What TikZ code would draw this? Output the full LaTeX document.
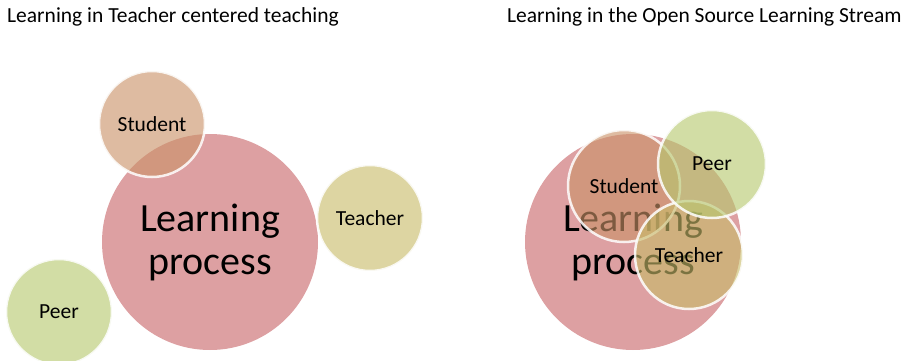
\documentclass[tikz,border=0pt]{standalone}
\usepackage{fontspec}
\setmainfont{Carlito}
\usepackage{tikz}

\definecolor{procpink}{RGB}{221,160,162}
\definecolor{studentc}{RGB}{202,146,104}
\definecolor{teacherc}{RGB}{200,187,105}
\definecolor{peerc}{RGB}{182,200,110}

\begin{document}
\begin{tikzpicture}[x=1pt,y=-1pt]
  \tikzset{font=\fontsize{21.5}{25}\selectfont}
  \tikzset{process/.style = {shape=circle,fill=procpink,minimum size=216pt,inner sep=0pt,align=center,font=\fontsize{40}{43}\selectfont}}
  \tikzset{agent/.style = {shape=circle,draw=white,draw opacity=0.85,line width=2.5pt,fill opacity=0.62,text opacity=1,inner sep=0pt,minimum size=106pt}}
  \tikzset{heading/.style = {anchor=base west,inner sep=0pt}}

  \useasboundingbox (0,0) rectangle (907,361);

  % teacher centered teaching
  \node[heading] (title1) at (7,23) {Learning in Teacher centered teaching};
  \node[process] (lp1) at (210,242) {Learning\\process};
  \node[agent,fill=studentc] (s1) at (152,124) {Student};
  \node[agent,fill=teacherc] (t1) at (370,218) {Teacher};
  \node[agent,fill=peerc] (p1) at (59,312) {Peer};

  % open source learning stream
  \node[heading] (title2) at (507,23) {Learning in the Open Source Learning Stream};
  \node[process] (lp2) at (633,242) {Learning\\process};
  \node[agent,fill=studentc,minimum size=112pt] (s2) at (624,186) {Student};
  \node[agent,fill=teacherc,minimum size=108pt] (t2) at (689,255) {Teacher};
  \node[agent,fill=peerc,minimum size=108pt] (p2) at (712,164) {Peer};
\end{tikzpicture}
\end{document}
